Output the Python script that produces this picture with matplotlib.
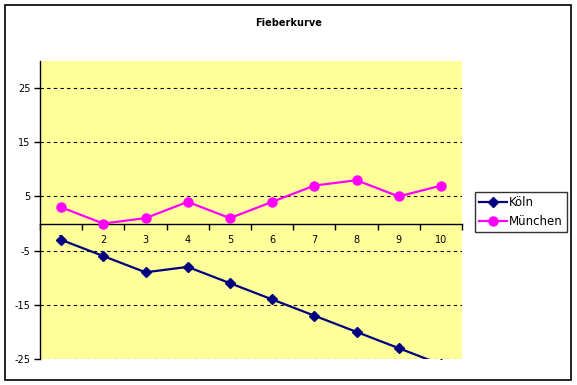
import matplotlib
matplotlib.use("Agg")
from matplotlib import pyplot as plt
from matplotlib.patches import Rectangle

# data
tage = [1, 2, 3, 4, 5, 6, 7, 8, 9, 10]
koeln = [-3, -6, -9, -8, -11, -14, -17, -20, -23, -26]
muenchen = [3, 0, 1, 4, 1, 4, 7, 8, 5, 7]
y_ticks = [-25, -15, -5, 5, 15, 25]

plt.rcParams['font.family'] = ['DejaVu Sans']

fig = plt.figure(figsize=(5.77, 3.85), dpi=100)
ax = fig.add_axes([40/577, 1-359/385, 422/577, 298/385])
ax.set_facecolor('#FFFF99')

# gridlines
for v in y_ticks:
    ax.axhline(v, color='black', lw=0.8, ls=(0, (3, 3)), zorder=1)

ax.plot(tage, koeln, color='#000080', lw=1.6, marker='D', ms=5,
        label='Köln', zorder=4)
ax.plot(tage, muenchen, color='#FF00FF', lw=1.6, marker='o', ms=6.5,
        label='München', zorder=4)

ax.set_xlim(0.5, 10.5)
ax.set_ylim(-25, 30)

# axes style like excel
ax.spines['top'].set_visible(False)
ax.spines['right'].set_visible(False)
ax.spines['bottom'].set_position(('data', 0))
ax.spines['bottom'].set_zorder(2)
ax.spines['left'].set_linewidth(1)
ax.spines['bottom'].set_linewidth(1)

ax.set_yticks(y_ticks)
ax.set_yticklabels([str(v) for v in y_ticks], fontsize=7)
ax.tick_params(axis='y', length=4, width=1, pad=3)

ax.set_xticks(tage)
ax.set_xticklabels([str(t) for t in tage], fontsize=7)
ax.set_xticks([t + 0.5 for t in tage[:-1]] + [0.5, 10.5], minor=True)
ax.tick_params(axis='x', which='major', length=0, pad=8)
ax.tick_params(axis='x', which='minor', length=4, width=1, direction='out')

fig.text(289/577, 1-23/385, 'Fieberkurve', ha='center', va='center',
         fontsize=7, fontweight='bold')

leg = ax.legend(loc='center left', bbox_to_anchor=(475/577, 1-212/385),
                bbox_transform=fig.transFigure, fontsize=8.5, frameon=True,
                fancybox=False, edgecolor='black', borderpad=0.35,
                handlelength=2.4, handletextpad=0.1, labelspacing=0.55,
                borderaxespad=0)
leg.get_frame().set_linewidth(1)

# outer chart border
fig.patches.append(Rectangle((5/577, 5/385), 566/577, 375/385, fill=False,
                             edgecolor='black', lw=1.2,
                             transform=fig.transFigure, figure=fig))

fig.savefig('out.png', dpi=100)
